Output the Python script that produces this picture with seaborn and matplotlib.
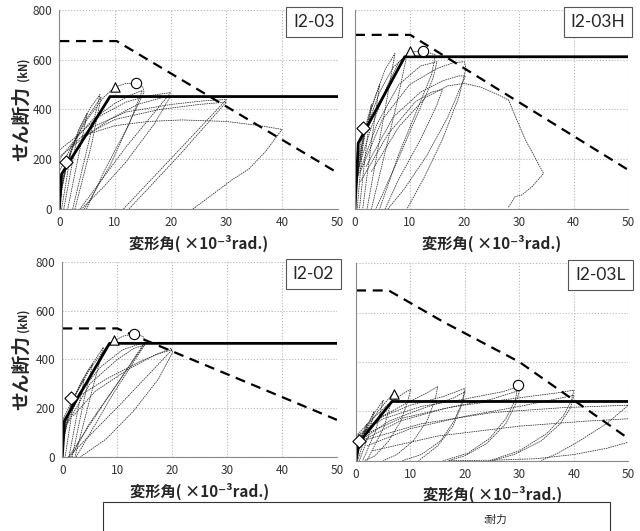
import pandas as pd
import seaborn as sns
import matplotlib.pyplot as plt
from matplotlib.patches import Rectangle

# ---- data ----
x_ticks = [0, 10, 20, 30, 40, 50]
y_ticks = [0, 200, 400, 600, 800]

# I2-03
i203_skeleton_x = [0, 0.4, 9.1, 50]
i203_skeleton_y = [0, 140, 452, 452]
i203_capacity_x = [0, 10.3, 50]
i203_capacity_y = [675, 675, 145]
i203_marks = {"D": (1.15, 188), "^": (10.0, 489), "o": (13.8, 508)}
i203_loops = [
    ([0, 0.5, 1.2, 2.0, 1.3, 0.4], [0, 95, 170, 225, 120, 0]),
    ([0, 0.8, 2.0, 3.3, 2.2, 0.8], [10, 130, 230, 300, 170, 0]),
    ([0, 1.2, 3.0, 5.0, 3.6, 1.5], [30, 160, 290, 385, 230, 0]),
    ([0, 1.5, 3.5, 5.5, 7.3, 5.4, 2.4], [50, 190, 320, 405, 460, 280, 0]),
    ([0, 2.0, 4.5, 7.5, 5.8, 2.8], [80, 230, 350, 450, 260, 0]),
    ([0, 2, 5, 8, 10, 12, 13.8, 15, 15.2, 12, 8, 4.9],
     [150, 245, 360, 450, 490, 505, 505, 490, 470, 320, 150, 0]),
    ([0, 2.5, 6, 10, 13, 14.9, 12.5, 9, 4.5], [200, 270, 360, 425, 460, 476, 340, 170, 0]),
    ([0, 3, 7, 12, 16, 20, 12, 3.7], [237, 290, 370, 430, 455, 468, 250, 0]),
    ([0, 4, 9, 14, 18, 20, 17, 12, 8, 4], [210, 280, 360, 420, 445, 455, 340, 190, 90, 0]),
    ([2, 6, 12, 20, 26, 30, 21, 11.5], [250, 330, 390, 420, 435, 440, 225, 0]),
    ([4, 10, 18, 25, 30, 21.5, 12.5], [290, 360, 400, 420, 430, 215, 0]),
    ([5, 10, 16, 22, 30, 36, 40, 37, 34, 31, 27, 24],
     [300, 335, 352, 358, 352, 335, 320, 230, 160, 117, 50, 0]),
]

# I2-03H
i203h_skeleton_x = [0, 0.6, 9.1, 50]
i203h_skeleton_y = [0, 265, 612, 612]
i203h_capacity_x = [0, 10.1, 50]
i203h_capacity_y = [700, 700, 157]
i203h_marks = {"D": (1.5, 327), "^": (10.1, 636), "o": (12.5, 637)}
i203h_loops = [
    ([0, 0.4, 1.0, 1.8, 1.1, 0.4], [0, 150, 260, 330, 180, 0]),
    ([0, 0.7, 1.8, 3.0, 2.0, 0.8], [20, 200, 320, 420, 240, 0]),
    ([0, 1.2, 2.8, 4.5, 3.2, 1.4], [40, 250, 390, 500, 300, 0]),
    ([0, 1.5, 3.5, 5.5, 7.3, 5.5, 2.2], [60, 290, 440, 560, 625, 400, 0]),
    ([0, 2.0, 4.5, 7.0, 9.5, 7.5, 3.0], [80, 320, 470, 570, 620, 410, 0]),
    ([0, 3, 6, 8, 10, 12.4, 14.7, 14, 11, 8, 4.5],
     [120, 330, 500, 590, 630, 637, 619, 540, 380, 220, 0]),
    ([0, 4, 8, 12, 15, 14.2, 11, 7.5, 3.8], [100, 340, 500, 575, 592, 520, 360, 180, 0]),
    ([1, 5, 10, 15, 18, 20, 20.3, 19, 16, 12.5, 9.5],
     [150, 360, 500, 565, 588, 592, 565, 450, 280, 120, 0]),
    ([2, 7, 12, 16, 19, 20.2, 19.5, 17, 13, 9, 6],
     [170, 370, 470, 515, 535, 535, 500, 370, 210, 80, 0]),
    ([1, 6, 11, 14, 16, 15, 12, 8, 5.5], [110, 300, 430, 470, 480, 420, 280, 120, 0]),
    ([3, 8, 13, 17, 20, 23, 26.3, 28.1, 29.6, 31.2, 34.5, 32.4, 30.5, 29.3, 28],
     [150, 330, 450, 495, 505, 490, 458, 438, 358, 277, 143, 90, 56, 50, 5]),
]

# I2-02
i202_skeleton_x = [0, 0.4, 8.6, 50]
i202_skeleton_y = [0, 150, 466, 466]
i202_capacity_x = [0, 10.0, 50]
i202_capacity_y = [527, 527, 153]
i202_marks = {"D": (1.5, 241), "^": (9.5, 480), "o": (13.0, 504)}
i202_loops = [
    ([0, 0.4, 1.2, 2.2, 1.4, 0.5], [0, 110, 190, 250, 130, 0]),
    ([0, 1.0, 2.5, 4.0, 2.8, 1.2], [20, 170, 260, 320, 190, 0]),
    ([0, 1.5, 3.5, 5.5, 4.0, 1.8], [40, 210, 310, 380, 240, 0]),
    ([0, 2.0, 4.5, 7.5, 5.5, 2.3], [60, 240, 350, 450, 280, 0]),
    ([0, 2, 5, 8, 9.5, 11, 13, 14.7, 15.2, 8, 1.1],
     [150, 240, 360, 450, 477, 495, 505, 494, 470, 235, 0]),
    ([0, 3, 7, 11, 15, 10, 5, 1.5], [120, 260, 370, 440, 470, 300, 140, 0]),
    ([1, 5, 10, 13, 15, 9, 2.5], [140, 300, 400, 445, 460, 250, 0]),
    ([0.5, 3, 8, 14, 19.8, 20.1, 17.5, 13, 8, 3.2],
     [120, 250, 320, 390, 446, 430, 320, 190, 75, 0]),
    ([2, 6, 12, 17, 20, 10.5, 1.1], [170, 270, 360, 420, 440, 215, 0]),
]

# I2-03L
i203l_skeleton_x = [0, 0.6, 6.6, 50]
i203l_skeleton_y = [0, 75, 240, 240]
i203l_capacity_x = [0, 6, 16, 30, 50]
i203l_capacity_y = [690, 690, 563, 400, 90]
i203l_marks = {"D": (0.6, 80), "^": (6.9, 270), "o": (29.8, 305)}
i203l_loops = [
    ([0, 0.5, 1.2, 2.0, 1.3, 0.3], [0, 60, 110, 150, 70, 0]),
    ([0, 1.0, 2.2, 3.3, 2.3, 0.6], [10, 90, 150, 200, 100, 0]),
    ([0, 1.5, 3.0, 5.0, 3.6, 1.2], [20, 110, 180, 245, 120, 0]),
    ([0, 2, 4, 6.9, 5.2, 2.0], [30, 130, 200, 275, 140, 0]),
    ([0, 3, 6, 8.5, 10, 9.5, 8.2, 6, 3.5, 1.5], [100, 170, 230, 270, 289, 240, 160, 80, 20, 0]),
    ([0, 4, 9, 13, 15, 14.5, 13, 10.5, 7.5, 5], [80, 170, 230, 275, 300, 245, 160, 80, 25, 0]),
    ([0, 5, 10, 16, 20, 19.5, 18, 15.5, 12, 8.5], [90, 180, 225, 260, 293, 240, 160, 80, 25, 0]),
    ([0, 6, 12, 18, 20, 19.4, 17.8, 15, 11.5], [70, 160, 210, 255, 280, 225, 140, 60, 0]),
    ([0, 5, 12, 20, 27, 29.7, 29.3, 27.5, 24.5, 20.5, 16],
     [100, 170, 220, 250, 280, 300, 250, 170, 90, 30, 0]),
    ([1, 8, 16, 25, 30, 29.4, 27.5, 24, 20, 17], [80, 160, 210, 250, 285, 235, 150, 70, 20, 0]),
    ([0, 8, 18, 30, 37, 40, 39.5, 38, 35, 30, 24.5],
     [90, 170, 220, 255, 275, 286, 240, 180, 110, 40, 0]),
    ([2, 10, 20, 30, 40, 39.4, 37.5, 34, 29, 25], [60, 130, 180, 220, 265, 215, 150, 80, 25, 0]),
    ([1, 12, 25, 38, 50, 46, 41, 37, 34], [80, 150, 195, 215, 225, 150, 80, 30, 0]),
    ([3, 15, 30, 42, 50], [40, 100, 140, 160, 170]),
    ([17, 25, 33, 40, 46, 50], [0, 2, 8, 25, 50, 75]),
]

# name, loops, skeleton, capacity, markers, axes rect, y-label (kanji y, unit y) in figure fraction
panels = [
    ("I2-03", i203_loops, i203_skeleton_x, i203_skeleton_y,
     i203_capacity_x, i203_capacity_y, i203_marks, [0.0927, 0.6064, 0.435, 0.3748], (0.768, 0.870)),
    ("I2-03H", i203h_loops, i203h_skeleton_x, i203h_skeleton_y,
     i203h_capacity_x, i203h_capacity_y, i203h_marks, [0.5547, 0.6064, 0.427, 0.3748], None),
    ("I2-02", i202_loops, i202_skeleton_x, i202_skeleton_y,
     i202_capacity_x, i202_capacity_y, i202_marks, [0.0973, 0.1388, 0.4292, 0.3684], (0.298, 0.396)),
    ("I2-03L", i203l_loops, i203l_skeleton_x, i203l_skeleton_y,
     i203l_capacity_x, i203l_capacity_y, i203l_marks, [0.5563, 0.1324, 0.4255, 0.3717], None),
]


def loops_frame(loops):
    rows = []
    for i, (xs, ys) in enumerate(loops):
        for x, y in zip(xs, ys):
            rows.append((i, x, y))
    return pd.DataFrame(rows, columns=["loop", "x", "y"])


sns.set_style("white")
plt.rcParams["font.family"] = ["Noto Sans CJK JP", "DejaVu Sans"]

fig = plt.figure(figsize=(6.4, 5.31), dpi=100)

for name, loops, skx, sky, cx, cy, marks, rect, ylab in panels:
    ax = fig.add_axes(rect)
    df = loops_frame(loops)
    sns.lineplot(data=df, x="x", y="y", units="loop", estimator=None, sort=False,
                 color="#2a2a2a", lw=0.55, ax=ax)
    for line in ax.lines:
        line.set_linestyle((0, (2.0, 1.0)))
    sns.lineplot(x=cx, y=cy, sort=False, estimator=None, color="black", lw=1.6, ax=ax)
    ax.lines[-1].set_linestyle((0, (4.5, 3.0)))
    sns.lineplot(x=skx, y=sky, sort=False, estimator=None, color="black", lw=2.0, ax=ax)
    for m, (mx, my) in marks.items():
        sns.scatterplot(x=[mx], y=[my], marker=m, s=55 if m == "o" else 45,
                        color="white", edgecolor="black", linewidth=0.8, ax=ax,
                        zorder=5, clip_on=False)

    ax.set_xlim(0, 50)
    ax.set_ylim(0, 800)
    ax.set_xticks(x_ticks)
    ax.set_yticks(y_ticks)
    ax.grid(True, color="#b5b5b5", ls=":", lw=0.8)
    for s in ["top", "right"]:
        ax.spines[s].set_visible(False)
    for s in ["left", "bottom"]:
        ax.spines[s].set_color("#8a8a8a")
        ax.spines[s].set_linewidth(0.8)
    ax.tick_params(length=0, labelsize=8.5, colors="#333333", pad=5)
    ax.set_xlabel("変形角( ×10⁻³rad.)", fontsize=11, fontweight="bold", labelpad=4)
    ax.set_ylabel("")
    if ylab is not None:
        fig.text(22 / 640, ylab[0], "せん断力", rotation=90, ha="center", va="center",
                 fontsize=13.5, fontweight="bold")
        fig.text(23 / 640, ylab[1], "(kN)", rotation=90, ha="center", va="center",
                 fontsize=8, fontweight="bold")
    else:
        ax.tick_params(labelleft=False)
    ax.text(0.99, 0.98, name, transform=ax.transAxes, ha="right", va="top",
            fontsize=12.5, family="Lato", zorder=6,
            bbox=dict(boxstyle="square,pad=0.4", fc="white", ec="#555555", lw=0.8))

fig.add_artist(Rectangle((0.161, -0.02), 0.792, 0.075, transform=fig.transFigure,
                         fill=False, ec="#333333", lw=0.8))
fig.text(0.755, 0.021, ":耐力", fontsize=7.5, ha="left", va="center", color="#222222")

fig.savefig("out.png", dpi=100)
